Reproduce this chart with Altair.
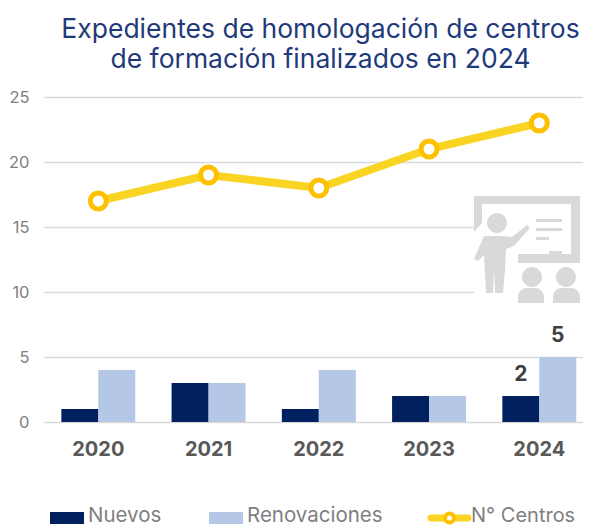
import altair as alt
import pandas as pd

years = ["2020", "2021", "2022", "2023", "2024"]
nuevos = [1, 3, 1, 2, 2]
renovaciones = [4, 3, 4, 2, 5]
centros = [17, 19, 18, 21, 23]
title_lines = ["Expedientes de homologación de centros", "de formación finalizados en 2024"]
series_names = ["Nuevos", "Renovaciones"]
series_colors = ["#002060", "#B4C7E7"]
FONT = "Inter"

ox, oy = 44, 97  # plot origin on the page


def P(x, y):
    return f"{x-527} {y-250}"


def circle(cx, cy, r):
    return (f"M{P(cx-r,cy)} A{r} {r} 0 1 1 {P(cx+r,cy)} A{r} {r} 0 1 1 {P(cx-r,cy)} Z ")


def poly(pts):
    return "M" + " L".join(P(x, y) for x, y in pts) + " Z "


icon_path = (
    poly([(474, 196), (580, 196), (580, 263), (518, 263), (518, 254), (571, 254), (571, 204), (482, 204), (482, 223), (474, 232)])
    + circle(497, 223, 10)
    + poly([(484, 236), (504, 236), (512, 237), (527, 225), (530, 228), (514, 246), (506, 249), (505, 270), (503, 293), (495, 293), (494, 268), (493, 293), (486, 293), (484, 255), (478, 261), (474, 259)])
    + poly([(536, 219), (562, 219), (562, 222), (536, 222)])
    + poly([(536, 228), (562, 228), (562, 231), (536, 231)])
    + poly([(536, 237), (549, 237), (549, 240), (536, 240)])
    + poly([(549, 251), (562, 251), (562, 254), (549, 254)])
    + circle(532, 277, 10) + circle(566, 277, 10)
    + f"M{P(518,303)} L{P(518,296)} A9 9 0 0 1 {P(527,288)} L{P(535,288)} A9 9 0 0 1 {P(544,296)} L{P(544,303)} Z "
    + f"M{P(553,303)} L{P(553,296)} A9 9 0 0 1 {P(562,288)} L{P(571,288)} A9 9 0 0 1 {P(580,296)} L{P(580,303)} Z"
)

bars = pd.DataFrame(
    {"year": years * 2,
     "serie": [series_names[0]] * 5 + [series_names[1]] * 5,
     "valor": nuevos + renovaciones}
)
line_df = pd.DataFrame({"year": years, "centros": centros})
labels_df = bars[bars.year == "2024"]
one = pd.DataFrame({"a": [0]})

x = alt.X("year:N", title=None, sort=years,
          scale=alt.Scale(paddingInner=0.33, paddingOuter=0.1095, align=0.72),
          axis=alt.Axis(labelAngle=0, ticks=False, domain=False, labelFont=FONT, labelFontSize=20,
                        labelFontWeight="bold", labelColor="#595959", labelPadding=17, grid=False))
y = alt.Y("v:Q", title=None, scale=alt.Scale(domain=[0, 25]),
          axis=alt.Axis(values=[0, 5, 10, 15, 20, 25], ticks=False, domain=False, labelFont=FONT, labelFontSize=16.5,
                        labelColor="#808080", labelPadding=15, grid=True, gridColor="#D9D9D9", gridWidth=1.5))

bar_layer = alt.Chart(bars).transform_calculate(v="datum.valor").mark_bar(size=37).encode(
    x=x, xOffset=alt.XOffset("serie:N", sort=series_names, scale=alt.Scale(paddingInner=0, paddingOuter=0)),
    y=y,
    color=alt.Color("serie:N", scale=alt.Scale(domain=series_names, range=series_colors), legend=None),
)
label_layer = alt.Chart(labels_df).transform_calculate(v="datum.valor").mark_text(
    font=FONT, fontSize=21, fontWeight="bold", color="#404040", dy=-21
).encode(x=x, xOffset=alt.XOffset("serie:N", sort=series_names), y=y, text="valor:Q")
line_layer = alt.Chart(line_df).transform_calculate(v="datum.centros").mark_line(
    color="#F9D423", strokeWidth=8).encode(x=x, y=y)
pt_layer = alt.Chart(line_df).transform_calculate(v="datum.centros").mark_point(
    filled=True, fill="#FFFFFF", stroke="#FFC000", strokeWidth=5, size=256, opacity=1).encode(x=x, y=y)

icon_bg = alt.Chart(one).mark_rect(color="#FFFFFF").encode(
    x=alt.value(474 - ox), x2=alt.value(583 - ox), y=alt.value(190 - oy), y2=alt.value(306 - oy))
icon = alt.Chart(one).mark_point(shape=icon_path, size=4, filled=True, fill="#D9D9D9", strokeWidth=0, opacity=1).encode(
    x=alt.value(527 - ox), y=alt.value(250 - oy))

leg_y = 518 - oy
text_y = 516 - oy
legend_layers = []
for name, col, x0 in zip(series_names, series_colors, [50, 209]):
    legend_layers.append(alt.Chart(one).mark_rect(color=col).encode(
        x=alt.value(x0 - ox), x2=alt.value(x0 + 34 - ox), y=alt.value(leg_y - 6), y2=alt.value(leg_y + 6)))
    legend_layers.append(alt.Chart(one).mark_text(text=name, font=FONT, fontSize=20.5, color="#7F7F7F", align="left", baseline="middle").encode(
        x=alt.value(x0 + 38 - ox), y=alt.value(text_y)))
legend_layers.append(alt.Chart(one).mark_rule(color="#F9D423", strokeWidth=7, strokeCap="round").encode(
    x=alt.value(431 - ox), x2=alt.value(468 - ox), y=alt.value(leg_y)))
legend_layers.append(alt.Chart(one).mark_point(filled=True, fill="#FFFFFF", stroke="#FFC000", strokeWidth=4, size=81, opacity=1).encode(
    x=alt.value(449.5 - ox), y=alt.value(leg_y)))
legend_layers.append(alt.Chart(one).mark_text(text="N° Centros", font=FONT, fontSize=20, color="#7F7F7F", align="left", baseline="middle").encode(
    x=alt.value(471 - ox), y=alt.value(text_y)))

chart = alt.layer(bar_layer, icon_bg, icon, line_layer, pt_layer, label_layer, *legend_layers).properties(
    width=539, height=325,
    title=alt.TitleParams(text=title_lines, font=FONT, fontSize=26.5, fontWeight="normal", color="#1F3A7A",
                          anchor="middle", frame="group", lineHeight=30, offset=16, dx=7),
    padding={"left": ox - 8, "top": oy - 8, "right": 0, "bottom": 527 - oy - 325},
    autosize=alt.AutoSizeParams(type="none"),
).configure_view(stroke=None)

chart.save("out.html", embed_options={"renderer": "svg", "actions": False})
